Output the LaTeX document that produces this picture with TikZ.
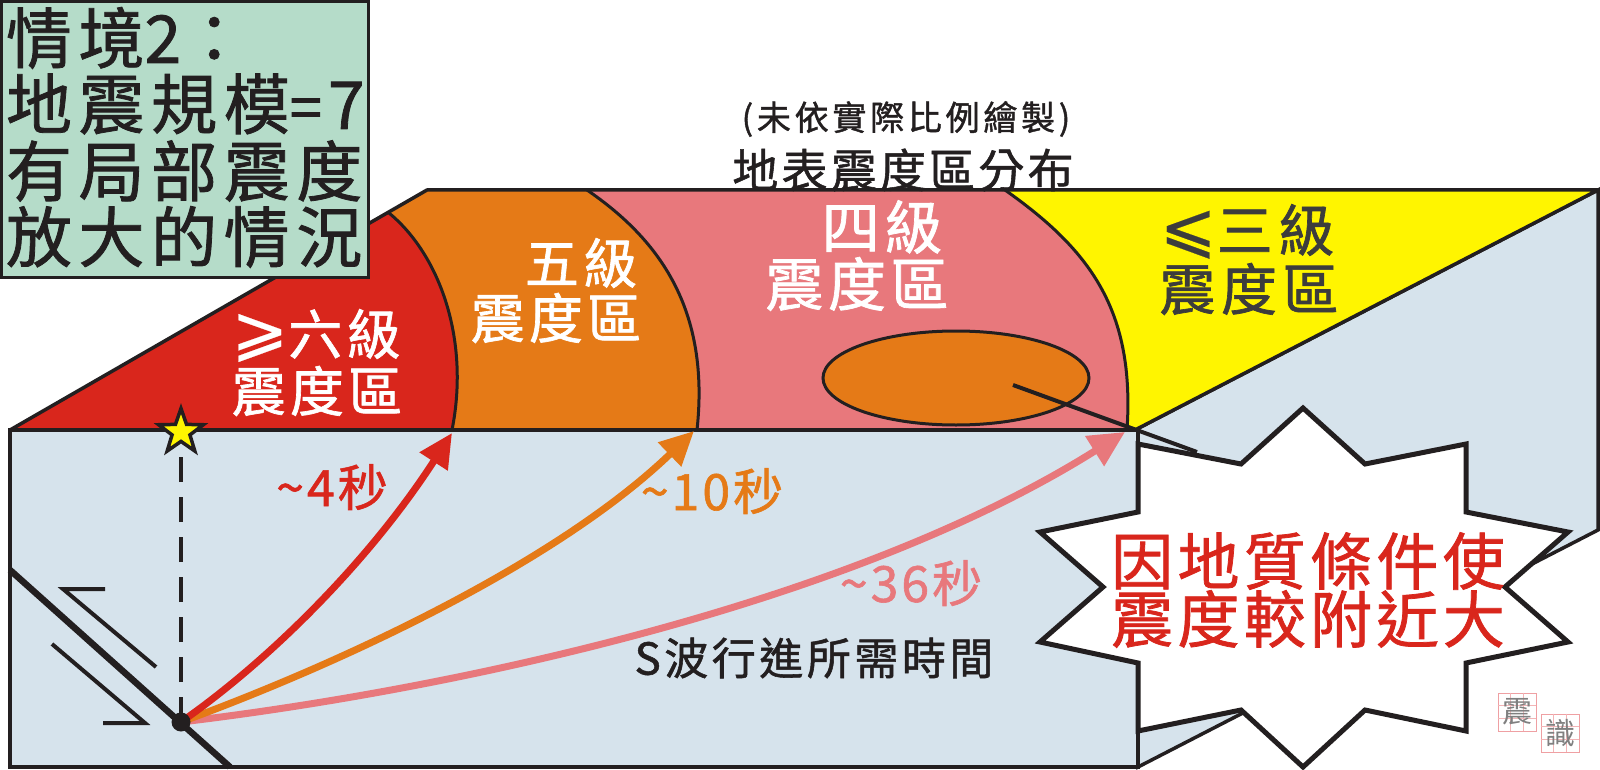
\documentclass[tikz,border=0pt]{standalone}
\usepackage{fontspec}
\usetikzlibrary{arrows.meta,shapes.geometric,calc}
\setmainfont{Noto Sans CJK TC}
\newfontfamily\cjkbold[FakeBold=1.2]{Noto Sans CJK TC}
\newfontfamily\symfont[FakeBold=0.3]{DejaVu Sans}
\definecolor{cdark}{HTML}{231F20}
\definecolor{cred}{HTML}{D9261C}
\definecolor{corange}{HTML}{E57A17}
\definecolor{cpink}{HTML}{E8787C}
\definecolor{cyellow}{HTML}{FFF500}
\definecolor{cgreen}{HTML}{B5DCC9}
\definecolor{cblue}{HTML}{D6E3EC}
\definecolor{cgrey}{HTML}{3C3C3C}
\newcommand{\tsize}[2]{\fontsize{#1}{#1}\cjkbold\addfontfeature{LetterSpace=#2}}
\newcommand{\symbig}[1]{\smash{{\symfont\fontsize{68}{68}\selectfont\raisebox{1pt}{#1}}}}
\tikzset{
  zone/.style={line width=3pt,draw=cdark,line join=round},
  face/.style={fill=cblue,draw=cdark,line width=3.5pt,line join=miter},
  label/.style={inner sep=0pt,outer sep=0pt,anchor=center},
  boxline/.style={inner sep=0pt,outer sep=0pt,anchor=west,text=cdark,font=\tsize{66}{10}},
  wave/.style={line width=7pt},
  sealbox/.style={draw=cpink!70,line width=0.8pt,minimum width=38pt,minimum height=38pt,inner sep=0pt},
  sealgrid/.style={draw=cpink!55,line width=0.5pt},
}
\newcommand{\sealgridfor}[1]{
  \draw[sealgrid] ($(#1.north west)!1/3!(#1.north east)$) -- ($(#1.south west)!1/3!(#1.south east)$);
  \draw[sealgrid] ($(#1.north west)!2/3!(#1.north east)$) -- ($(#1.south west)!2/3!(#1.south east)$);
  \draw[sealgrid] ($(#1.north west)!1/3!(#1.south west)$) -- ($(#1.north east)!1/3!(#1.south east)$);
  \draw[sealgrid] ($(#1.north west)!2/3!(#1.south west)$) -- ($(#1.north east)!2/3!(#1.south east)$);
}
\begin{document}
\begin{tikzpicture}[x=1pt,y=-1pt]
\useasboundingbox (0,0) rectangle (1600,770);
\fill[white] (0,0) rectangle (1600,770);
% coordinates
\coordinate (src) at (181,722);
\coordinate (tipr) at (452,433);
\coordinate (tipo) at (694,431);
\coordinate (tipp) at (1125,432);
% right side face
\draw[face] (1135,430) -- (1598,190) -- (1598,530) -- (1138,767) -- cycle;
% surface zones
\fill[cred] (10,430) -- (389,213) .. controls (440,255) and (470,340) .. (452,430) -- cycle;
\fill[corange] (389,213) -- (427,190) -- (587,190) .. controls (660,240) and (710,310) .. (697,430) -- (452,430) .. controls (470,340) and (440,255) .. (389,213) -- cycle;
\fill[cpink] (587,190) -- (1005,190) .. controls (1090,250) and (1135,310) .. (1127,430) -- (697,430) .. controls (710,310) and (660,240) .. (587,190) -- cycle;
\fill[cyellow] (1005,190) -- (1598,190) -- (1135,430) -- (1127,430) .. controls (1135,310) and (1090,250) .. (1005,190) -- cycle;
\draw[zone] (389,213) .. controls (440,255) and (470,340) .. (452,430);
\draw[zone] (587,190) .. controls (660,240) and (710,310) .. (697,430);
\draw[zone] (1005,190) .. controls (1090,250) and (1135,310) .. (1127,430);
\draw[zone,line width=3.5pt] (10,430) -- (427,190) -- (1598,190) -- (1135,430);
\node[ellipse,draw=cdark,line width=3pt,fill=corange,minimum width=266pt,minimum height=94pt,inner sep=0pt] (patch) at (956,378) {};
% front face
\draw[face] (10,430) rectangle (1138,767);
% fault
\draw[cdark,line width=6.5pt] (10,570) -- (230,767);
\draw[cdark,line width=4pt] (105,589) -- (63,589) -- (156,667);
\draw[cdark,line width=4pt] (52,644) -- (145,723) -- (103,723);
% focus
\node[star,star points=5,star point ratio=2.5,draw=cdark,fill=cyellow,line width=3.5pt,minimum size=47pt,inner sep=0pt] (epi) at (181,432) {};
\draw[cdark,line width=4.5pt,dash pattern=on 25pt off 15pt] (src) -- (epi.south);
% wave paths
\draw[wave,cpink,-{Triangle[length=36pt,width=34pt]}] (src) .. controls (450,690) and (850,605) .. (tipp);
\draw[wave,corange,-{Triangle[length=34pt,width=32pt]}] (src) .. controls (350,660) and (560,560) .. (tipo);
\draw[wave,cred,-{Triangle[length=34pt,width=32pt]}] (src) .. controls (270,660) and (370,560) .. (tipr);
\node[circle,fill=cdark,minimum size=19pt,inner sep=0pt] (focus) at (src) {};
% callout
\coordinate (lead) at (1197,452);
\draw[cdark,line width=4pt] (1013,385) -- (lead);
\draw[fill=white,draw=cdark,line width=5pt,line join=miter]
 (1303,408) -- (1365,464) -- (1466,444) -- (1466,512) -- (1568,532) -- (1505,587) -- (1568,642) -- (1466,663) -- (1466,731) -- (1365,710) -- (1303,767) -- (1241,710) -- (1138,731) -- (1138,663) -- (1040,642) -- (1103,587) -- (1040,532) -- (1138,512) -- (1138,444) -- (1241,464) -- cycle;
% green box
\draw[fill=cgreen,draw=cdark,line width=3pt] (1.5,1.5) rectangle (368,277);
\node[boxline] (b1) at (6,38) {情境{\addfontfeature{LetterSpace=0}2}：};
\node[boxline] (b2) at (6,104) {地震規模{\addfontfeature{LetterSpace=0}{\fontsize{58}{58}\selectfont =}\hspace{6pt}7}};
\node[boxline] (b3) at (6,171) {有局部震度};
\node[boxline] (b4) at (6,237) {放大的情況};
% titles
\node[label,text=cdark,font=\tsize{34}{11}] (note) at (906,119) {(未依實際比例繪製)};
\node[label,text=cdark,font=\tsize{46}{7}] (title) at (903,170) {地表震度區分布};
% zone labels
\node[label,text=white,font=\tsize{54}{8}] (z6a) at (316,334) {\symbig{⩾}六級};
\node[label,text=white,font=\tsize{54}{8}] (z6b) at (317,391) {震度區};
\node[label,text=white,font=\tsize{54}{8}] (z5a) at (581,263) {五級};
\node[label,text=white,font=\tsize{54}{8}] (z5b) at (556,318) {震度區};
\node[label,text=white,font=\tsize{58}{8}] (z4a) at (882,227) {四級};
\node[label,text=white,font=\tsize{58}{8}] (z4b) at (857,284) {震度區};
\node[label,text=cgrey,font=\tsize{56}{10}] (z3a) at (1247,230) {\symbig{⩽}三級};
\node[label,text=cgrey,font=\tsize{56}{10}] (z3b) at (1249,289) {震度區};
% times
\node[label,text=cred,font=\tsize{50}{6}] (t4) at (332,487) {\textasciitilde 4秒};
\node[label,text=corange,font=\tsize{50}{6}] (t10) at (712,491) {\textasciitilde 10秒};
\node[label,text=cpink,font=\tsize{50}{6}] (t36) at (911,583) {\textasciitilde 36秒};
\node[label,text=cdark,font=\tsize{44}{8}] (swave) at (814,658) {S波行進所需時間};
% callout text
\node[label,text=cred,font=\tsize{62}{7}] (c1) at (1308,561) {因地質條件使};
\node[label,text=cred,font=\tsize{62}{7}] (c2) at (1308,619) {震度較附近大};
% seal
\node[sealbox] (s1) at (1517,712) {};
\node[sealbox] (s2) at (1560,733) {};
\sealgridfor{s1}
\sealgridfor{s2}
\node[label,text=black!50,font=\fontsize{30}{30}\selectfont] (s1t) at (s1) {震};
\node[label,text=black!50,font=\fontsize{30}{30}\selectfont] (s2t) at (s2) {識};
\end{tikzpicture}
\end{document}
